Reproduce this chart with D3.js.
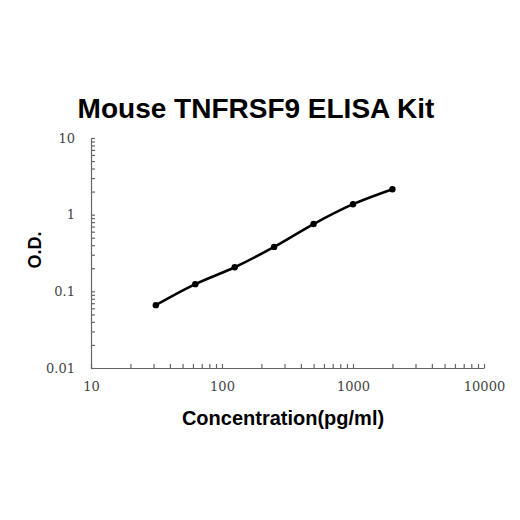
<!DOCTYPE html>
<html>
<head>
<meta charset="utf-8">
<title>Mouse TNFRSF9 ELISA Kit</title>
<style>
  body { margin: 0; background: white; }
  .tick text { font-family: "DejaVu Serif", serif; font-size: 13px; fill: #444; }
  .axis path, .axis line { stroke: #666; stroke-width: 1.2; }
</style>
<script src="https://cdn.jsdelivr.net/npm/d3@7"></script>
</head>
<body>
<div id="chart"></div>
<script>
  var concentrations = [31.25, 62.5, 125, 250, 500, 1000, 2000];
  var odValues = [0.066, 0.124, 0.206, 0.38, 0.755, 1.37, 2.15];
  var xTicks = [10, 100, 1000, 10000];
  var yTicks = [0.01, 0.1, 1, 10];

  var svg = d3.select('#chart')
      .append('svg')
      .attr('width', 520)
      .attr('height', 520);

  var x = d3.scaleLog().domain([10, 10000]).range([91, 484]);
  var y = d3.scaleLog().domain([0.01, 10]).range([368, 138]);

  // minor ticks 2..9 in every decade
  function minors(lo, hi) {
    var out = [];
    for (var d = lo; d < hi; d *= 10) {
      for (var k = 1; k < 10; k++) out.push(d * k);
    }
    out.push(hi);
    return out;
  }

  var xAxis = svg.append('g')
      .attr('class', 'axis')
      .attr('transform', 'translate(0,' + y.range()[0] + ')')
      .call(d3.axisBottom(x).tickValues(minors(10, 10000)).tickSize(-4).tickSizeOuter(0)
        .tickFormat(function(d) { return xTicks.indexOf(d) >= 0 ? d : ''; }));
  xAxis.selectAll('.tick text').attr('dy', '1.5em');

  var yAxis = svg.append('g')
      .attr('class', 'axis')
      .attr('transform', 'translate(' + x.range()[0] + ',0)')
      .call(d3.axisLeft(y).tickValues(minors(0.01, 10)).tickSize(-4).tickSizeOuter(0)
        .tickFormat(function(d) {
          var i = yTicks.findIndex(function(t) { return Math.abs(t - d) / t < 1e-6; });
          return i >= 0 ? String(yTicks[i]) : '';
        }));
  yAxis.selectAll('.tick text').attr('x', -16);

  var pts = concentrations.map(function(c, i) { return [c, odValues[i]]; });

  var line = d3.line()
      .x(function(d) { return x(d[0]); })
      .y(function(d) { return y(d[1]); })
      .curve(d3.curveCatmullRom.alpha(0.5));

  svg.append('path')
      .datum(pts)
      .attr('d', line)
      .attr('fill', 'none')
      .attr('stroke', 'black')
      .attr('stroke-width', 2.6);

  svg.selectAll('circle')
      .data(pts)
    .enter().append('circle')
      .attr('cx', function(d) { return x(d[0]); })
      .attr('cy', function(d) { return y(d[1]); })
      .attr('r', 3.2)
      .attr('fill', 'black');

  svg.append('text')
      .attr('x', 256)
      .attr('y', 118)
      .attr('text-anchor', 'middle')
      .style('font', 'bold 28px "Liberation Sans", Arial, sans-serif')
      .text('Mouse TNFRSF9 ELISA Kit');

  svg.append('text')
      .attr('x', 283)
      .attr('y', 425)
      .attr('text-anchor', 'middle')
      .style('font', 'bold 20px "Liberation Sans", Arial, sans-serif')
      .text('Concentration(pg/ml)');

  svg.append('text')
      .attr('transform', 'translate(41,250) rotate(-90)')
      .attr('text-anchor', 'middle')
      .style('font', 'bold 18px "Liberation Sans", Arial, sans-serif')
      .text('O.D.');
</script>
</body>
</html>
